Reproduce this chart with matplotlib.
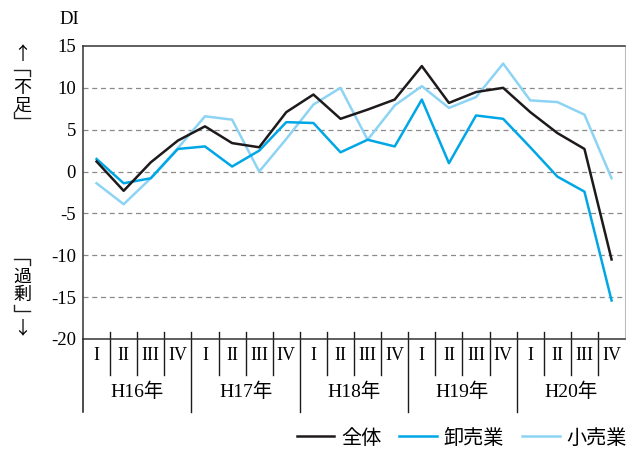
import matplotlib
matplotlib.use('Agg')
import matplotlib.pyplot as plt
from matplotlib.lines import Line2D

plt.rcParams['font.family'] = ['Noto Sans CJK JP', 'DejaVu Sans']
plt.rcParams['axes.unicode_minus'] = False

# 四半期と年
quarters = ['I', 'II', 'III', 'IV']
years = ['H16年', 'H17年', 'H18年', 'H19年', 'H20年']

# DI 値
zentai = [1.2, -2.3, 1.1, 3.7, 5.4, 3.4, 2.9, 7.1, 9.2, 6.3,
          7.4, 8.6, 12.6, 8.2, 9.5, 10.0, 7.1, 4.6, 2.7, -10.5]
oroshi = [1.5, -1.4, -0.8, 2.7, 3.0, 0.6, 2.5, 5.9, 5.8, 2.3,
          3.8, 3.0, 8.6, 1.0, 6.7, 6.3, 2.9, -0.6, -2.4, -15.4]
kouri = [-1.4, -3.9, -0.8, 2.8, 6.6, 6.2, 0.0, 3.9, 8.0, 10.0,
         3.8, 7.9, 10.2, 7.6, 8.9, 12.9, 8.5, 8.3, 6.8, -0.8]

yticks = [15, 10, 5, 0, -5, -10, -15, -20]

col_black = '#1e1a1b'
col_blue = '#00a7e6'
col_light = '#8dd4f4'
serif = ['Liberation Serif', 'Noto Sans CJK JP']

fig = plt.figure(figsize=(6.26, 4.49), dpi=100)
ax = fig.add_axes([0.1326, 0.245, 0.866, 0.6526])

n = len(zentai)
xs = [i + 0.5 for i in range(n)]
ax.plot(xs, kouri, color=col_light, lw=1.8, label='小売業', zorder=3)
ax.plot(xs, oroshi, color=col_blue, lw=1.8, label='卸売業', zorder=4)
ax.plot(xs, zentai, color=col_black, lw=1.8, label='全体', zorder=5)

ax.set_xlim(0, n)
ax.set_ylim(-20, 15)
ax.set_yticks(yticks)
ax.set_yticklabels([str(v) for v in yticks], family=serif, fontsize=13.5)
ax.tick_params(axis='y', length=0, pad=5)
ax.set_xticks([])

for v in yticks[1:-1]:
    ax.axhline(v, color='#8a8a8a', lw=0.9, ls=(0, (4, 3)), zorder=1)

for side in ['left', 'top', 'bottom']:
    ax.spines[side].set_color('#333333')
    ax.spines[side].set_linewidth(1.1)
ax.spines['right'].set_color('#bbbbbb')
ax.spines['right'].set_linewidth(0.8)

# 下の区切り線とラベル
tr = ax.get_xaxis_transform()
for i in range(1, n):
    if i % 4 == 0:
        ax.plot([i, i], [0.024, -0.248], color=col_black, lw=1.0, transform=tr, clip_on=False)
    else:
        ax.plot([i, i], [0.024, -0.123], color=col_black, lw=1.0, transform=tr, clip_on=False)
ax.plot([0, 0], [0, -0.248], color=col_black, lw=1.1, transform=tr, clip_on=False)

for i in range(n):
    ax.text(i + 0.5, -0.058, quarters[i % 4], transform=tr, ha='center', va='center',
            family=serif, fontsize=13)
for j, y in enumerate(years):
    ax.text(j * 4 + 2, -0.181, y, transform=tr, ha='center', va='center',
            family=serif, fontsize=14)

fig.text(69 / 626, 1 - 20 / 449, 'DI', family=serif, fontsize=13.5, ha='center', va='center')

# 縦書きラベル
chars = [('↑', 55), ('不', 88), ('足', 106), ('過', 277), ('剰', 295), ('↓', 328)]
for ch, ypx in chars:
    fig.text(22 / 626, 1 - ypx / 449, ch, fontsize=13, ha='center', va='center',
             family=['Noto Sans CJK JP', 'DejaVu Sans'])

# 縦書きのかぎ括弧（線で描く）
def px(x, y):
    return x / 626, 1 - y / 449

brackets = [
    [(14, 70), (30, 70), (30, 76)],      # 上「
    [(14, 112), (14, 118), (30, 118)],   # 上」
    [(14, 259), (30, 259), (30, 265)],   # 下「
    [(14, 305), (14, 311), (30, 311)],   # 下」
]
for pts in brackets:
    xy = [px(x, y) for x, y in pts]
    fig.add_artist(Line2D([p[0] for p in xy], [p[1] for p in xy],
                          color='#222222', lw=1.0, transform=fig.transFigure))

handles = [Line2D([], [], color=col_black, lw=1.8),
           Line2D([], [], color=col_blue, lw=1.8),
           Line2D([], [], color=col_light, lw=1.8)]
fig.legend(handles, ['全体', '卸売業', '小売業'], loc='center right',
           bbox_to_anchor=(1.008, 11 / 449), ncol=3, frameon=False,
           fontsize=14.5, handlelength=1.85, handletextpad=0.35, columnspacing=0.9,
           borderaxespad=0, borderpad=0.2)

fig.savefig('out.png', dpi=100)
